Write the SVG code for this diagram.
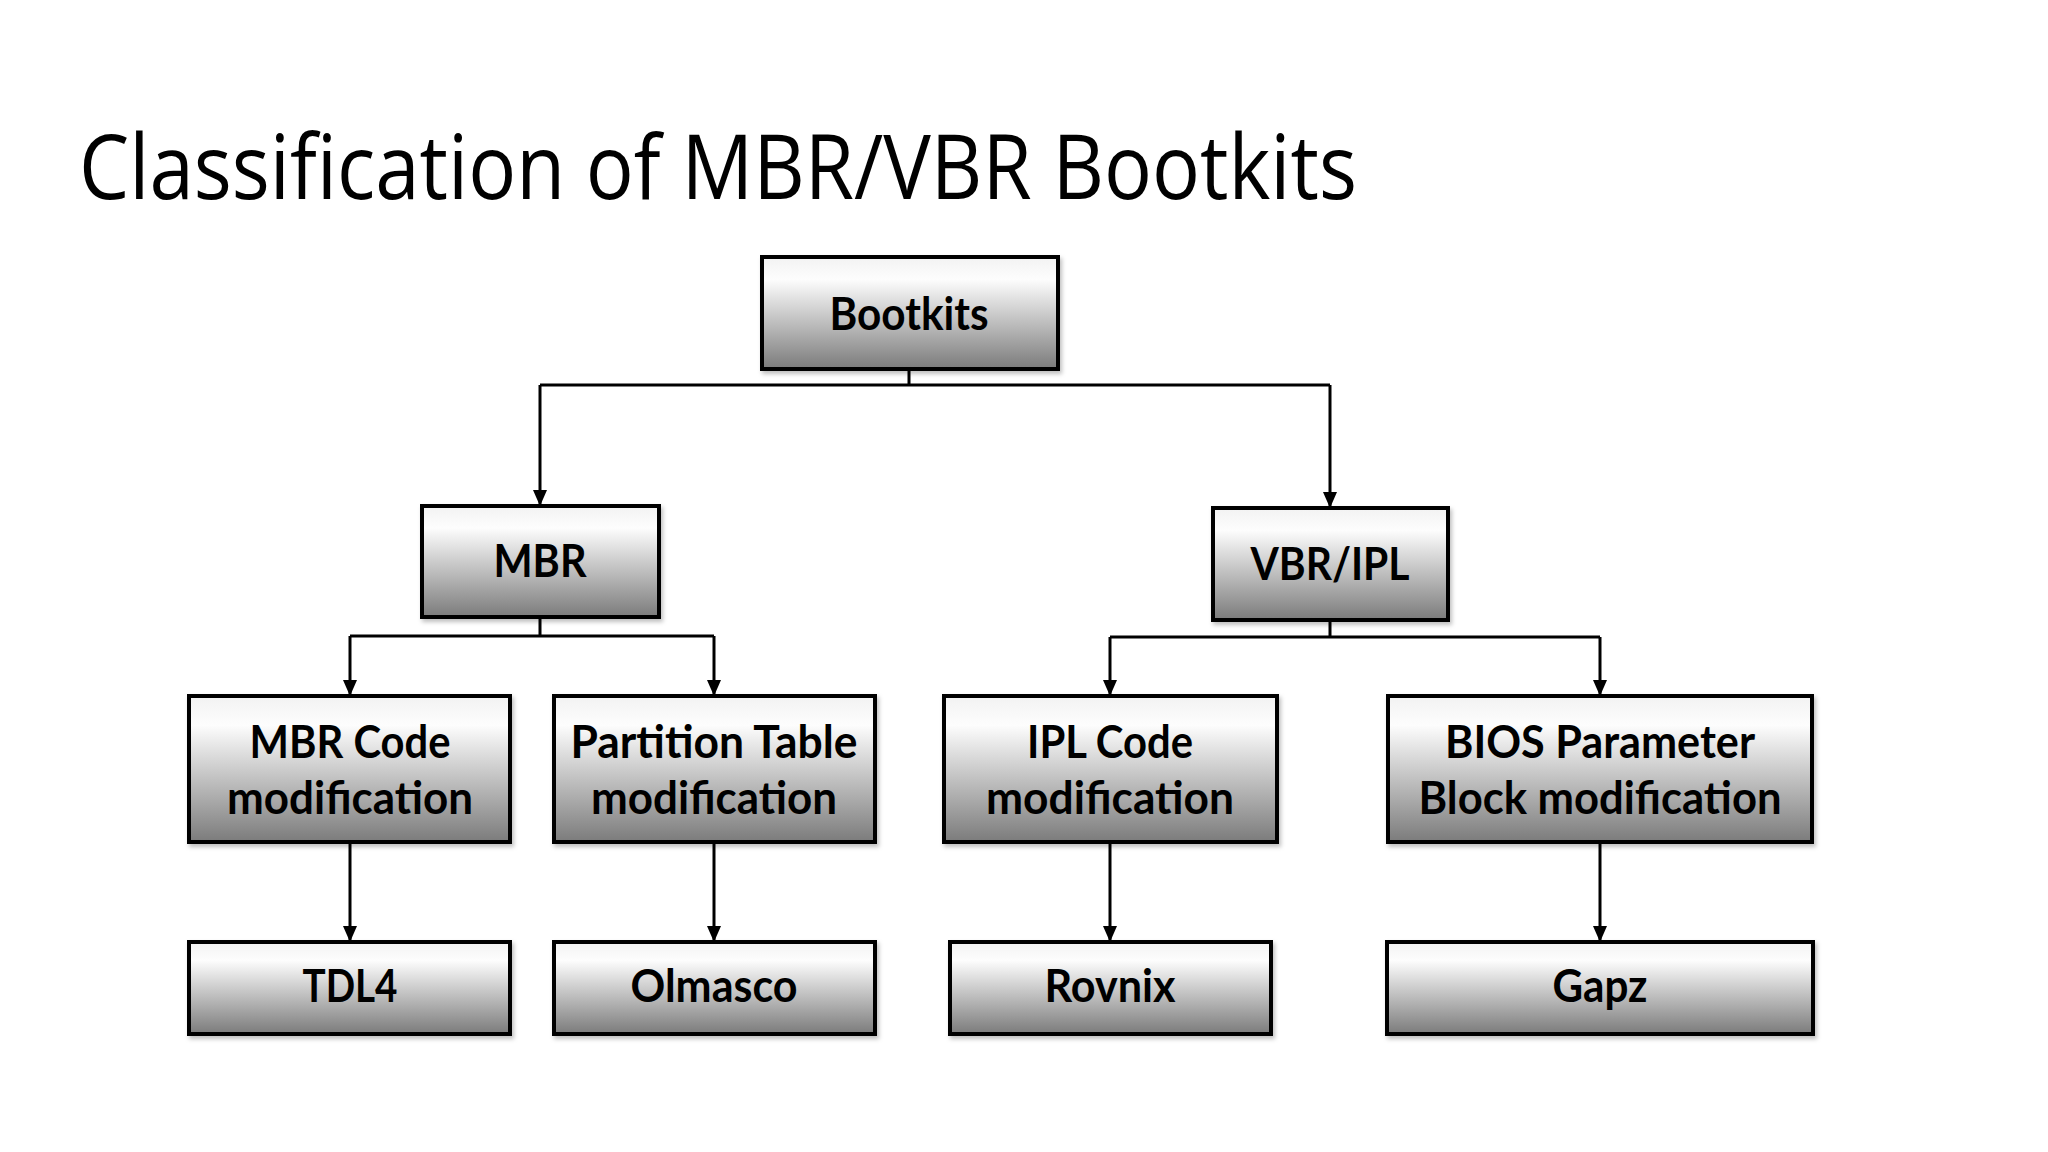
<svg xmlns="http://www.w3.org/2000/svg" width="2048" height="1152" viewBox="0 0 2048 1152">
<style>
.box{fill:url(#g);stroke:#000;stroke-width:4;filter:url(#sh)}
.lbl{font-family:Lato,"Open Sans","Liberation Sans",sans-serif;font-weight:bold;font-size:46px;fill:#000;text-anchor:middle}
.con{fill:none;stroke:#000;stroke-width:3}
.title{font-family:"Open Sans","Liberation Sans",sans-serif;font-size:90px;fill:#000}
</style>
<defs>
<linearGradient id="g" x1="0" y1="0" x2="0" y2="1">
<stop offset="0" stop-color="#f2f2f2"/>
<stop offset="0.2" stop-color="#fdfdfd"/>
<stop offset="1" stop-color="#7b7b7b"/>
</linearGradient>
<filter id="sh" x="-5%" y="-5%" width="115%" height="120%">
<feDropShadow dx="2" dy="3" stdDeviation="2" flood-color="#000" flood-opacity="0.25"/>
</filter>
<marker id="ah" viewBox="0 0 16 14" refX="16" refY="7" markerWidth="16" markerHeight="14" markerUnits="userSpaceOnUse" orient="auto">
<path d="M0,0 L16,7 L0,14 z" fill="#000"/>
</marker>
</defs>
<rect width="2048" height="1152" fill="#fff"/>
<text class="title" x="79" y="199" textLength="1278" lengthAdjust="spacingAndGlyphs">Classification of MBR/VBR Bootkits</text>

<g id="connectors">
<path class="con" d="M909,369 V385 M540,385 H1330"/>
<path class="con" d="M540,385 V506" marker-end="url(#ah)"/>
<path class="con" d="M1330,385 V508" marker-end="url(#ah)"/>
<path class="con" d="M540,617 V636 M350,636 H714"/>
<path class="con" d="M350,636 V696" marker-end="url(#ah)"/>
<path class="con" d="M714,636 V696" marker-end="url(#ah)"/>
<path class="con" d="M1330,620 V637 M1110,637 H1600"/>
<path class="con" d="M1110,637 V696" marker-end="url(#ah)"/>
<path class="con" d="M1600,637 V696" marker-end="url(#ah)"/>
<path class="con" d="M350,842 V942" marker-end="url(#ah)"/>
<path class="con" d="M714,842 V942" marker-end="url(#ah)"/>
<path class="con" d="M1110,842 V942" marker-end="url(#ah)"/>
<path class="con" d="M1600,842 V942" marker-end="url(#ah)"/>
</g>

<g id="bootkits"><rect class="box" x="762" y="257" width="296" height="112"/><text class="lbl" x="909" y="330" textLength="159" lengthAdjust="spacingAndGlyphs">Bootkits</text></g>
<g id="mbr"><rect class="box" x="422" y="506" width="237" height="111"/><text class="lbl" x="540" y="577" textLength="93" lengthAdjust="spacingAndGlyphs">MBR</text></g>
<g id="vbr"><rect class="box" x="1213" y="508" width="235" height="112"/><text class="lbl" x="1330" y="580" textLength="159" lengthAdjust="spacingAndGlyphs">VBR/IPL</text></g>

<g id="mbrcode"><rect class="box" x="189" y="696" width="321" height="146"/><text class="lbl" x="350" y="758" textLength="201" lengthAdjust="spacingAndGlyphs">MBR Code</text><text class="lbl" x="350" y="814" textLength="246" lengthAdjust="spacingAndGlyphs">modification</text></g>
<g id="partition"><rect class="box" x="554" y="696" width="321" height="146"/><text class="lbl" x="714" y="758" textLength="287" lengthAdjust="spacingAndGlyphs">Partition Table</text><text class="lbl" x="714" y="814" textLength="246" lengthAdjust="spacingAndGlyphs">modification</text></g>
<g id="iplcode"><rect class="box" x="944" y="696" width="333" height="146"/><text class="lbl" x="1110" y="758" textLength="166" lengthAdjust="spacingAndGlyphs">IPL Code</text><text class="lbl" x="1110" y="814" textLength="248" lengthAdjust="spacingAndGlyphs">modification</text></g>
<g id="bpb"><rect class="box" x="1388" y="696" width="424" height="146"/><text class="lbl" x="1600" y="758" textLength="310" lengthAdjust="spacingAndGlyphs">BIOS Parameter</text><text class="lbl" x="1600" y="814" textLength="363" lengthAdjust="spacingAndGlyphs">Block modification</text></g>

<g id="tdl4"><rect class="box" x="189" y="942" width="321" height="92"/><text class="lbl" x="350" y="1002" textLength="95" lengthAdjust="spacingAndGlyphs">TDL4</text></g>
<g id="olmasco"><rect class="box" x="554" y="942" width="321" height="92"/><text class="lbl" x="714" y="1002" textLength="167" lengthAdjust="spacingAndGlyphs">Olmasco</text></g>
<g id="rovnix"><rect class="box" x="950" y="942" width="321" height="92"/><text class="lbl" x="1110" y="1002" textLength="131" lengthAdjust="spacingAndGlyphs">Rovnix</text></g>
<g id="gapz"><rect class="box" x="1387" y="942" width="426" height="92"/><text class="lbl" x="1600" y="1002" textLength="95" lengthAdjust="spacingAndGlyphs">Gapz</text></g>
</svg>
